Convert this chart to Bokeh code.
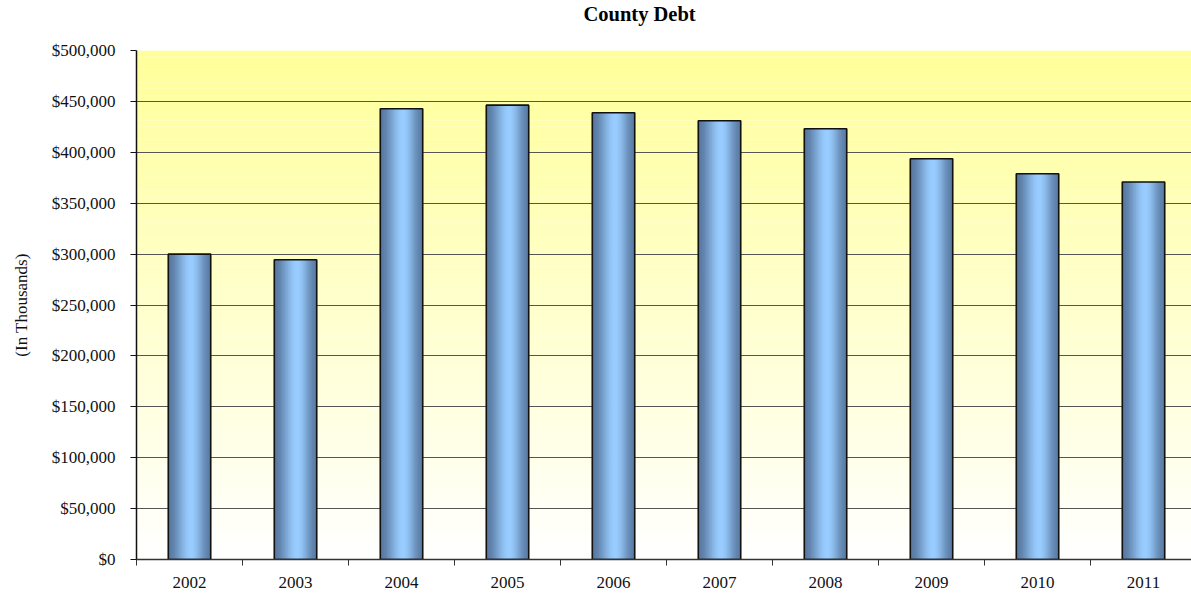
from bokeh.plotting import figure
from bokeh.models import Range1d, FixedTicker, NumeralTickFormatter, Title
from bokeh.embed import file_html
from bokeh.resources import INLINE

# ---- data ----
years = ["2002", "2003", "2004", "2005", "2006", "2007", "2008", "2009", "2010", "2011"]
debt = [300000, 294500, 442800, 446300, 438900, 431000, 423200, 393700, 379000, 370800]
y_ticks = [0, 50000, 100000, 150000, 200000, 250000, 300000, 350000, 400000, 450000, 500000]

FONT = "Liberation Serif"
n = len(years)
centers = [i + 0.5 for i in range(n)]
bounds = [i for i in range(n + 1)]

W, H = 1191, 594
LEFT = 136
cat_px = 106.0
x_end = (W - LEFT) / cat_px

p = figure(width=W, height=H, output_backend="svg", toolbar_location=None,
           x_range=Range1d(0, x_end), y_range=Range1d(0, 500000),
           min_border_left=LEFT, min_border_right=0, min_border_top=50,
           min_border_bottom=35)
p.background_fill_color = "white"
p.border_fill_color = "white"
p.outline_line_color = None

# background vertical gradient (yellow top -> white bottom)
NB = 80
top_c = (255, 255, 153)
bot_c = (255, 255, 255)
bl, br, bb, bt, bc = [], [], [], [], []
for k in range(NB):
    f0 = k / NB
    f1 = (k + 1) / NB
    bb.append(500000 * f0)
    bt.append(500000 * f1 + 100)
    bl.append(0)
    br.append(x_end)
    t = (f0 + f1) / 2
    c = tuple(int(round(bot_c[j] + (top_c[j] - bot_c[j]) * t)) for j in range(3))
    bc.append("#%02x%02x%02x" % c)
bg = p.quad(left=bl, right=br, bottom=bb, top=bt, fill_color=bc, line_color=None)
bg.level = "image"

# bars with horizontal gradient
BW = 0.4
NS = 30
dark_l = (88, 120, 160)
dark_r = (92, 126, 166)
light = (153, 204, 255)
peak = 0.55
for s in range(NS):
    t = (s + 0.5) / NS
    if t <= peak:
        f = t / peak
        d = dark_l
    else:
        f = (1 - t) / (1 - peak)
        d = dark_r
    f = f * f * (3 - 2 * f)
    c = tuple(int(round(d[j] + (light[j] - d[j]) * f)) for j in range(3))
    col = "#%02x%02x%02x" % c
    off = -BW / 2 + (s + 0.5) * BW / NS
    p.vbar(x=[cx + off for cx in centers], top=debt, width=BW / NS * 1.6,
           fill_color=col, line_color=None)
p.vbar(x=centers, top=debt, width=BW, fill_color=None, line_color="#111111",
       line_width=1.6)

# grid
p.xgrid.visible = False
p.ygrid.ticker = FixedTicker(ticks=y_ticks)
p.ygrid.grid_line_color = "#555555"
p.ygrid.grid_line_width = 1.1

# y axis
yax = p.yaxis[0]
yax.ticker = FixedTicker(ticks=y_ticks)
yax.formatter = NumeralTickFormatter(format="$0,0")
yax.major_label_text_font = FONT
yax.major_label_text_font_size = "17px"
yax.major_label_text_color = "#111111"
yax.major_tick_out = 6
yax.major_tick_in = 0
yax.minor_tick_line_color = None
yax.major_label_standoff = 15
yax.axis_line_color = "#111111"
yax.axis_line_width = 1.5
yax.major_tick_line_color = "#111111"
yax.axis_label = "(In Thousands)"
yax.axis_label_text_font = FONT
yax.axis_label_text_font_size = "17px"
yax.axis_label_text_font_style = "normal"
yax.axis_label_text_color = "#111111"
yax.axis_label_standoff = 18

# x axis
xax = p.xaxis[0]
xax.ticker = FixedTicker(ticks=centers, minor_ticks=bounds)
xax.major_label_overrides = {c: y for c, y in zip(centers, years)}
xax.major_tick_line_color = None
xax.minor_tick_line_color = "#333333"
xax.minor_tick_out = 6
xax.minor_tick_in = 0
xax.major_label_text_font = FONT
xax.major_label_text_font_size = "17px"
xax.major_label_text_color = "#111111"
xax.major_label_standoff = 11
xax.axis_line_color = "#333333"
xax.axis_line_width = 1.5

# title
p.title = Title(text="County Debt\n", text_font=FONT, text_font_size="20.5px",
                text_font_style="bold", text_color="#000000", align="left",
                vertical_align="top", offset=447, standoff=4)

open("out.html", "w").write(file_html(p, INLINE))
